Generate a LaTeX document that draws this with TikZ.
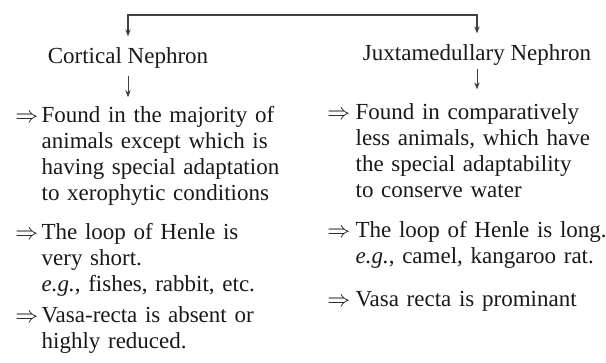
\RequirePackage{fix-cm}
\documentclass[tikz,border=0pt]{standalone}
\usepackage{fontspec}
\setmainfont{Liberation Serif}
\usepackage{tikz}
\usetikzlibrary{arrows.meta,positioning}

\begin{document}
\begin{tikzpicture}[x=1pt,y=-1pt,->,>={Stealth[length=7pt,width=5.5pt]},line width=1.3pt,draw=black!75,
    every node/.style={font=\fontsize{23}{26}\selectfont,inner sep=0pt,text=black!90}]
                \tikzstyle{title}=[anchor=base]
                \tikzstyle{point}=[anchor=base west,text width=275pt,align=left]
                \tikzstyle{imp}=[anchor=base east]
                \useasboundingbox (0,0) rectangle (606,362);

                % headings
                \coordinate (top) at (300,15);
                \node[title] (cort)  at (128,63) {Cortical Nephron};
                \node[title] (juxta) at (477,60) {Juxtamedullary Nephron};

                % cortical nephron
                \node[point] (cort_1) at (41,122) {Found in the majority of\\ animals except which is\\ having special adaptation\\ to xerophytic conditions};
                \node[imp] (cort_1-ar) at ([xshift=-2pt]cort_1.base west) {$\Rightarrow$};
                \node[point] (cort_2) at (41,239) {The loop of Henle is\\ very short.\\ \textit{e.g.}, fishes, rabbit, etc.};
                \node[imp] (cort_2-ar) at ([xshift=-2pt]cort_2.base west) {$\Rightarrow$};
                \node[point] (cort_3) at (41,322) {Vasa-recta is absent or\\ highly reduced.};
                \node[imp] (cort_3-ar) at ([xshift=-2pt]cort_3.base west) {$\Rightarrow$};

                % juxtamedullary nephron
                \node[point] (juxta_1) at (355,119) {Found in comparatively\\ less animals, which have\\ the special adaptability\\ to conserve water};
                \node[imp] (juxta_1-ar) at ([xshift=-4pt]juxta_1.base west) {$\Rightarrow$};
                \node[point] (juxta_2) at (355,237) {The loop of Henle is long.\\ \textit{e.g.}, camel, kangaroo rat.};
                \node[imp] (juxta_2-ar) at ([xshift=-4pt]juxta_2.base west) {$\Rightarrow$};
                \node[point] (juxta_3) at (355,306) {Vasa recta is prominant};
                \node[imp] (juxta_3-ar) at ([xshift=-4pt]juxta_3.base west) {$\Rightarrow$};

                \draw[shorten >=10pt] (top) -| (cort.north);
                \draw[shorten >=10pt] (top) -| (juxta.north);
                \draw[line width=1pt,shorten <=7pt,shorten >=8pt] (cort.south) -- (cort.south |- cort_1.north);
                \draw[line width=1pt,shorten <=3pt,shorten >=13pt] (juxta.south) -- (juxta.south |- juxta_1.north);
\end{tikzpicture}
\end{document}
